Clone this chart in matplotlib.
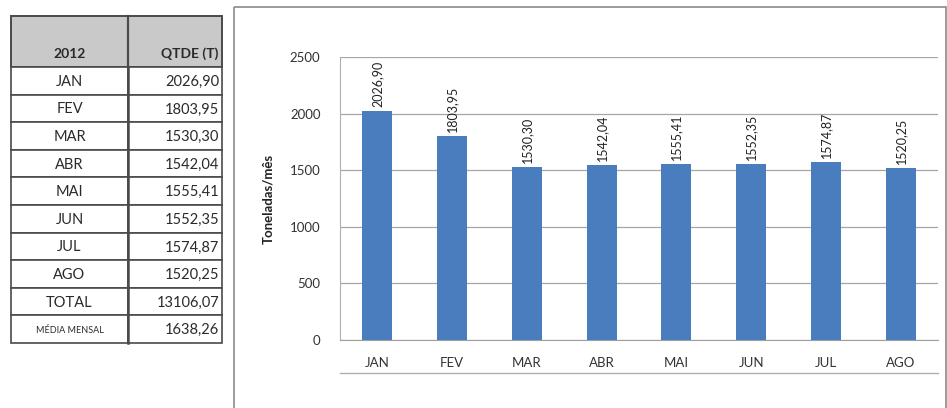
import matplotlib
matplotlib.use("Agg")
import matplotlib.pyplot as plt
from matplotlib.patches import Rectangle

plt.rcParams["font.family"] = ["Lato", "DejaVu Sans"]

# --- dados 2012 ---
meses = ["JAN", "FEV", "MAR", "ABR", "MAI", "JUN", "JUL", "AGO"]
qtde = [2026.90, 1803.95, 1530.30, 1542.04, 1555.41, 1552.35, 1574.87, 1520.25]
total = 13106.07
media_mensal = 1638.26
y_ticks = [0, 500, 1000, 1500, 2000, 2500]

W, H = 947, 408


def fmt(v):
    return f"{v:.2f}".replace(".", ",")


fig = plt.figure(figsize=(W / 100, H / 100), dpi=100)
fig.patch.set_facecolor("white")

# --- tabela (coordenadas em pixels) ---
tab = fig.add_axes([0, 0, 1, 1])
tab.set_xlim(0, W)
tab.set_ylim(H, 0)
tab.axis("off")

x0, xm, x1 = 11, 128, 222
y_top, y_head = 16, 67
row_h = (343 - y_head) / 10
edge = "#4a4a4a"
txt = "#2a2a2a"

tab.add_patch(Rectangle((x0, y_top), x1 - x0, y_head - y_top,
                        facecolor="#c9c9c9", edgecolor=edge, lw=1.4))
tab.plot([xm, xm], [y_top, y_head], color=edge, lw=1.6)
tab.text((x0 + xm) / 2, y_head - 7, "2012", ha="center", va="bottom",
         fontsize=10, fontweight="bold", color=txt)
tab.text(x1 - 4, y_head - 7, "QTDE (T)", ha="right", va="bottom",
         fontsize=10, fontweight="bold", color=txt)

linhas = list(zip(meses, qtde)) + [("TOTAL", total), ("MÉDIA MENSAL", media_mensal)]
for i, (rot, val) in enumerate(linhas):
    yt = y_head + i * row_h
    tab.add_patch(Rectangle((x0, yt), xm - x0, row_h, facecolor="white",
                            edgecolor=edge, lw=1.2))
    tab.add_patch(Rectangle((xm, yt), x1 - xm, row_h, facecolor="white",
                            edgecolor=edge, lw=1.2))
    fs = 6.5 if rot == "MÉDIA MENSAL" else 10.5
    tab.text((x0 + xm) / 2, yt + row_h / 2 + 1, rot, ha="center", va="center",
             fontsize=fs, color=txt)
    tab.text(x1 - 3, yt + row_h / 2 + 1, fmt(val), ha="right", va="center",
             fontsize=10.5, color=txt)
tab.plot([xm, xm], [y_head, 343], color=edge, lw=1.8)

# moldura do gráfico
tab.add_patch(Rectangle((234, 7), 712, 420, facecolor="none",
                        edgecolor="#8a8a8a", lw=1.2))
# linha sob os rótulos do eixo x
tab.plot([340, 938], [373, 373], color="#b0b0b0", lw=1.0)

# --- gráfico de barras ---
ax = fig.add_axes([340 / W, 68 / H, 598 / W, 283 / H])
x = range(len(meses))
ax.bar(x, qtde, width=0.4, color="#4a7dbd", zorder=3)
ax.set_xlim(-0.5, len(meses) - 0.5)
ax.set_ylim(0, 2500)
ax.set_yticks(y_ticks)
ax.set_xticks(list(x))
ax.set_xticklabels(meses)
ax.tick_params(axis="both", length=0, labelsize=9.5, colors="#333333")
ax.tick_params(axis="x", pad=12)
ax.tick_params(axis="y", pad=14)
ax.grid(axis="y", color="#a6a6a6", lw=0.9, zorder=0)
for s in ["top", "right"]:
    ax.spines[s].set_visible(False)
ax.spines["left"].set_color("#b0b0b0")
ax.spines["bottom"].set_color("#a0a0a0")
ax.set_ylabel("Toneladas/mês", fontsize=9.5, fontweight="bold",
              color="#222222", labelpad=11)

for xi, v in zip(x, qtde):
    ax.text(xi, v + 35, fmt(v), rotation=90, ha="center", va="bottom",
            fontsize=9, color="#222222")

fig.savefig("out.png", dpi=100)
